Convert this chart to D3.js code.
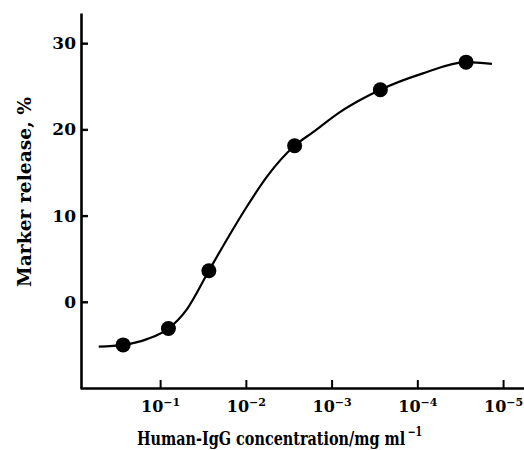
<!DOCTYPE html>
<html>
<head>
<meta charset="utf-8">
<script src="https://d3js.org/d3.v7.min.js"></script>
<style>
  body { margin: 0; background: #fff; }
  svg text { font-family: "DejaVu Serif", serif; font-weight: bold; fill: #000; }
</style>
</head>
<body>
<script>
// measured points: concentration (mg/ml) and marker release (%)
var conc    = [0.27, 0.08, 0.027, 0.0027, 0.00027, 0.000027];
var release = [-5.0, -3.1, 3.6, 18.1, 24.6, 27.8];

// fitted curve
var fitConc    = [0.52, 0.27, 0.14, 0.08, 0.049, 0.027, 0.0167, 0.0098, 0.0057, 0.0027, 0.00163, 0.0008, 0.000465, 0.00027, 0.000086, 0.000027, 0.0000135];
var fitRelease = [-5.2, -5.0, -4.3, -3.1, -0.9, 3.6, 7.2, 11.0, 14.5, 18.1, 19.7, 22.0, 23.4, 24.6, 26.5, 27.8, 27.6];

var xTicks = [1e-1, 1e-2, 1e-3, 1e-4, 1e-5];
var xTickExp = ["\u22121", "\u22122", "\u22123", "\u22124", "\u22125"];
var yTicks = [0, 10, 20, 30];

var width = 524, height = 450;

var svg = d3.select("body").append("svg")
    .attr("width", width)
    .attr("height", height);

// x runs from high to low concentration
var x = d3.scaleLog()
    .domain([0.86, 5.7e-6])
    .range([80, 524]);

var y = d3.scaleLinear()
    .domain([-10, 33.5])
    .range([388, 13]);

// y axis
var yAxis = svg.append("g")
    .attr("transform", "translate(81,0)")
    .call(d3.axisLeft(y).tickValues(yTicks).tickSizeInner(-7).tickSizeOuter(0).tickPadding(5));
yAxis.select(".domain").attr("stroke-width", 2.6);
yAxis.selectAll(".tick line").attr("stroke-width", 2.4);
yAxis.selectAll(".tick text").attr("font-size", 17);

// x axis
var xAxis = svg.append("g")
    .attr("transform", "translate(0,388)")
    .call(d3.axisBottom(x).tickValues(xTicks).tickSizeInner(-8).tickSizeOuter(0).tickFormat(""));
xAxis.select(".domain").attr("stroke-width", 2.6);
xAxis.selectAll(".tick line").attr("stroke-width", 2);

xAxis.selectAll(".tick text").each(function(d, i) {
    var t = d3.select(this)
        .attr("y", 24)
        .attr("dy", null)
        .attr("font-size", 16);
    t.append("tspan").text("10");
    t.append("tspan").attr("dy", -6).attr("font-size", 11).text(xTickExp[i]);
});

// fitted curve
var line = d3.line()
    .x(function(d) { return x(d[0]); })
    .y(function(d) { return y(d[1]); })
    .curve(d3.curveMonotoneX);

svg.append("path")
    .datum(d3.zip(fitConc, fitRelease))
    .attr("d", line)
    .attr("fill", "none")
    .attr("stroke", "#000")
    .attr("stroke-width", 2.2);

// data points
svg.selectAll("circle")
    .data(d3.zip(conc, release))
    .enter().append("circle")
    .attr("cx", function(d) { return x(d[0]); })
    .attr("cy", function(d) { return y(d[1]); })
    .attr("r", 7.5)
    .attr("fill", "#000");

// axis titles (narrowed horizontally like the original face)
var xt = svg.append("text")
    .attr("transform", "translate(137,445) scale(0.8,1)")
    .attr("font-size", 18);
xt.append("tspan").text("Human-IgG concentration/mg ml");
xt.append("tspan")
    .attr("dx", 3)
    .attr("dy", -9)
    .attr("font-size", 12)
    .text("\u22121");

svg.append("text")
    .attr("transform", "translate(31,192) rotate(-90)")
    .attr("text-anchor", "middle")
    .attr("font-size", 18)
    .attr("textLength", 190)
    .attr("lengthAdjust", "spacingAndGlyphs")
    .text("Marker release, %");
</script>
</body>
</html>
